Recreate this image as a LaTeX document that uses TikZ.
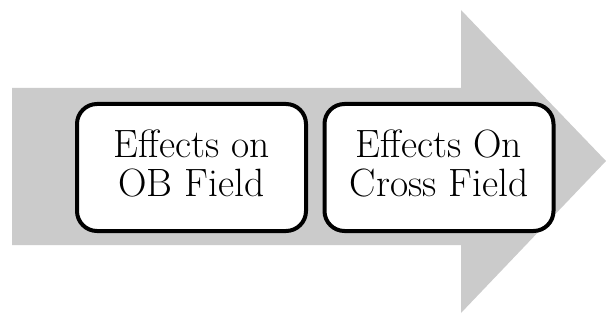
\documentclass[tikz,border=0pt]{standalone}
\definecolor{arrowgray}{RGB}{203,203,203}
\tikzset{
  fieldbox/.style={draw=black, line width=4pt, rounded corners=20pt, fill=white,
    minimum width=229pt, minimum height=127pt, inner sep=0pt, align=center,
    text depth=8pt, font=\fontsize{39.5}{39}\selectfont}
}
\begin{document}
\begin{tikzpicture}[x=1pt,y=1pt]
\useasboundingbox (0,0) rectangle (606,322);
\fill[arrowgray] (12,77) -- (12,234) -- (461,234) -- (461,312) -- (606,161) -- (461,9) -- (461,77) -- cycle;
\node[fieldbox] (ob) at (191.5,154.5) {Effects on\\OB Field};
\node[fieldbox] (cross) at (439,154.5) {Effects On\\Cross Field};
\end{tikzpicture}
\end{document}
